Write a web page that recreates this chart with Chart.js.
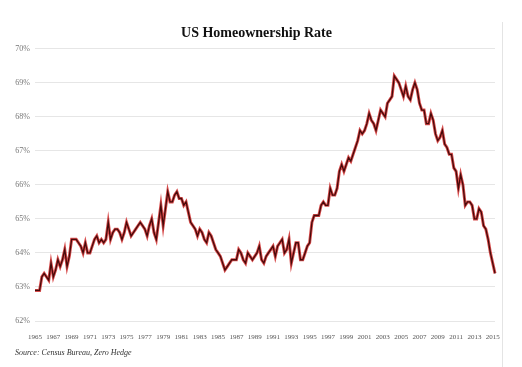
<!DOCTYPE html>
<html>
<head>
<meta charset="utf-8">
<script src="https://cdn.jsdelivr.net/npm/chart.js@4"></script>
<style>
    body { margin: 0; background: #fff; }
    #wrap { position: relative; width: 522px; height: 367px; }
    #frame { position: absolute; left: 502px; top: 22px; width: 1px; height: 345px; background: #e4e4e4; }
    #source {
        position: absolute; left: 15px; top: 348px;
        font-family: 'Liberation Serif', serif; font-style: italic;
        font-size: 8px; color: #333;
    }
</style>
</head>
<body>
<div id="wrap">
    <canvas id="homeChart" width="522" height="367"></canvas>
    <div id="frame"></div>
    <div id="source">Source: Census Bureau, Zero Hedge</div>
</div>
<script>
// quarterly homeownership rate (%), starting 1965 Q1
const startYear = 1965;
const rate1960s = [
    62.9, 62.9, 62.9, 63.3,  63.4, 63.3, 63.2, 63.7,  63.3, 63.5, 63.8, 63.6,
    63.8, 64.1, 63.6, 63.9,  64.4, 64.4, 64.4, 64.3
];
const rate1970s = [
    64.2, 64.0, 64.3, 64.0,  64.0, 64.2, 64.4, 64.5,  64.3, 64.4, 64.3, 64.4,
    64.9, 64.4, 64.6, 64.7,  64.7, 64.6, 64.4, 64.6,  64.9, 64.7, 64.5, 64.6,
    64.7, 64.8, 64.9, 64.8,  64.7, 64.5, 64.8, 65.0,  64.6, 64.4, 64.9, 65.4,
    64.8, 65.3, 65.8, 65.5
];
const rate1980s = [
    65.5, 65.7, 65.8, 65.6,  65.6, 65.4, 65.5, 65.2,  64.9, 64.8, 64.7, 64.5,
    64.7, 64.6, 64.4, 64.3,  64.6, 64.5, 64.3, 64.1,  64.0, 63.9, 63.7, 63.5,
    63.6, 63.7, 63.8, 63.8,  63.8, 64.1, 64.0, 63.8,  63.7, 64.0, 63.9, 63.8,
    63.9, 64.0, 64.2, 63.8
];
const rate1990s = [
    63.7, 63.9, 64.0, 64.1,  64.2, 63.9, 64.2, 64.3,  64.4, 64.0, 64.1, 64.4,
    63.7, 64.0, 64.3, 64.3,  63.8, 63.8, 64.0, 64.2,  64.3, 64.9, 65.1, 65.1,
    65.1, 65.4, 65.5, 65.4,  65.4, 65.9, 65.7, 65.7,  65.9, 66.4, 66.6, 66.4,
    66.6, 66.8, 66.7, 66.9
];
const rate2000s = [
    67.1, 67.3, 67.6, 67.5,  67.6, 67.8, 68.1, 67.9,  67.8, 67.6, 67.9, 68.2,
    68.1, 68.0, 68.4, 68.5,  68.6, 69.2, 69.1, 69.0,  68.8, 68.6, 68.9, 68.6,
    68.5, 68.8, 69.0, 68.8,  68.4, 68.2, 68.2, 67.8,  67.8, 68.1, 67.9, 67.5,
    67.3, 67.4, 67.6, 67.2
];
const rate2010s = [
    67.1, 66.9, 66.9, 66.5,  66.4, 65.9, 66.3, 66.0,  65.4, 65.5, 65.5, 65.4,
    65.0, 65.0, 65.3, 65.2,  64.8, 64.7, 64.4, 64.0,  63.7, 63.4
];

const tickYears = [1965, 1967, 1969, 1971, 1973, 1975, 1977, 1979, 1981, 1983, 1985, 1987, 1989,
    1991, 1993, 1995, 1997, 1999, 2001, 2003, 2005, 2007, 2009, 2011, 2013, 2015];
const percentTicks = [62, 63, 64, 65, 66, 67, 68, 69, 70];

const serif = "'Liberation Serif', 'DejaVu Serif', serif";

function buildPoints() {
    const all = [].concat(rate1960s, rate1970s, rate1980s, rate1990s, rate2000s, rate2010s);
    return all.map((v, i) => ({ x: startYear + i / 4, y: v }));
}

function createHomeChart() {
    const ctx = document.getElementById('homeChart').getContext('2d');
    const points = buildPoints();

    new Chart(ctx, {
        type: 'line',
        data: {
            datasets: [{
                // dark core of the line
                data: points,
                borderColor: '#460a0a',
                borderWidth: 1.3,
                pointRadius: 0,
                tension: 0,
                clip: false
            }, {
                // red halo underneath
                data: points,
                borderColor: 'rgba(205, 30, 30, 0.8)',
                borderWidth: 3,
                pointRadius: 0,
                tension: 0,
                clip: false
            }]
        },
        options: {
            responsive: false,
            animation: false,
            layout: {
                padding: { left: 0, right: 9, top: 0, bottom: 0 }
            },
            plugins: {
                legend: { display: false },
                tooltip: { enabled: false },
                title: {
                    display: true,
                    text: 'US Homeownership Rate',
                    color: '#111',
                    font: { family: serif, size: 14, weight: 'bold' },
                    padding: { top: 25, bottom: 7 }
                }
            },
            scales: {
                x: {
                    type: 'linear',
                    min: startYear,
                    max: 2015.25,
                    grid: { display: false },
                    border: { display: false },
                    afterBuildTicks: axis => {
                        axis.ticks = tickYears.map(v => ({ value: v }));
                    },
                    afterFit: scale => {
                        scale.height = 46;
                    },
                    ticks: {
                        autoSkip: false,
                        maxRotation: 0,
                        padding: 4,
                        color: '#555',
                        font: { family: serif, size: 7 },
                        callback: v => String(v)
                    }
                },
                y: {
                    min: 62,
                    max: 70,
                    afterBuildTicks: axis => {
                        axis.ticks = percentTicks.map(v => ({ value: v }));
                    },
                    afterFit: scale => {
                        scale.width = 35;
                    },
                    grid: {
                        color: '#e6e6e6',
                        lineWidth: 1,
                        drawTicks: false
                    },
                    border: { display: false },
                    ticks: {
                        padding: 5,
                        color: '#777',
                        font: { family: serif, size: 8 },
                        callback: v => v + '%'
                    }
                },
                // empty right-hand axis, only to keep the plot clear of the right margin
                yRight: {
                    type: 'linear',
                    position: 'right',
                    display: true,
                    grid: { display: false },
                    border: { display: false },
                    ticks: { display: false },
                    afterFit: scale => {
                        scale.width = 18;
                    }
                }
            }
        }
    });
}

document.addEventListener('DOMContentLoaded', createHomeChart);
</script>
</body>
</html>
